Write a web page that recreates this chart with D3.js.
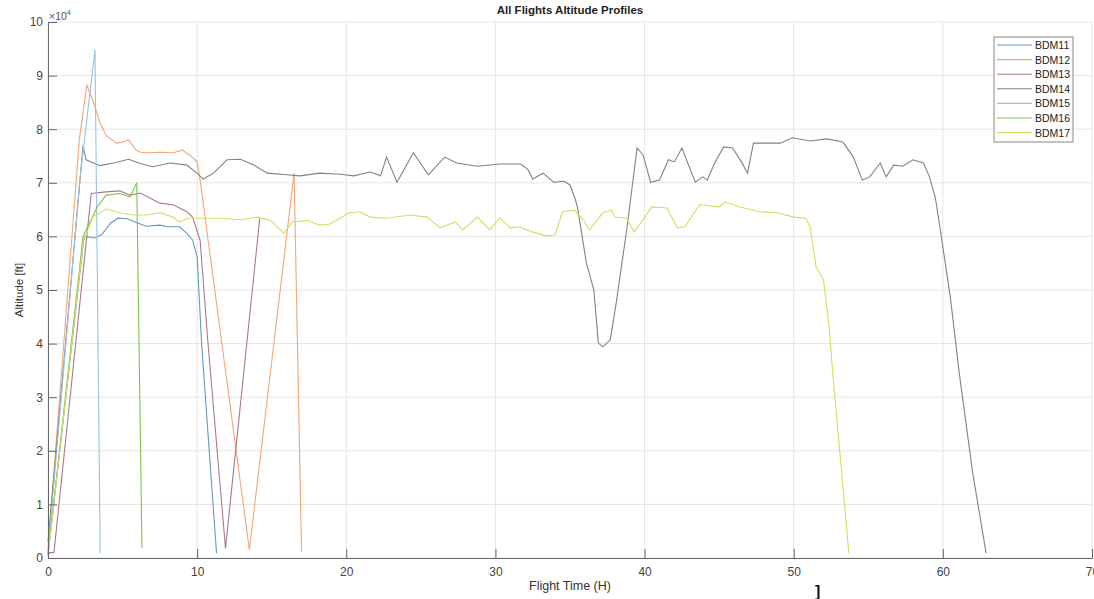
<!DOCTYPE html>
<html>
<head>
<meta charset="utf-8">
<script src="https://cdn.jsdelivr.net/npm/d3@7"></script>
<style>
  body { margin: 0; background: #fff; }
  svg { font-family: "Liberation Sans", Arial, sans-serif; }
</style>
</head>
<body>
<div id="chart"></div>
<script>
// flight profiles, [hours, feet]
const bdm11 = [[0,800],[2.4,59500],[2.5,60000],[3.1,59700],[3.6,60300],[4.2,62500],[4.7,63400],[5.3,63300],[6.0,62500],[6.6,61900],[7.5,62100],[8.0,61800],[8.8,61800],[9.3,60600],[9.7,59300],[10.0,56200],[10.3,40000],[11.3,900]];
const bdm12 = [[0,1500],[2.1,78000],[2.6,88200],[3.0,85400],[3.5,81100],[3.9,78800],[4.6,77400],[5.0,77600],[5.4,78000],[5.9,76100],[6.2,75700],[6.8,75600],[7.5,75700],[8.4,75600],[9.0,76100],[9.5,75200],[10.0,73900],[10.2,70500],[13.5,1500],[16.5,71800],[17.0,1200]];
const bdm13 = [[0,500],[0.1,1000],[0.4,1000],[2.9,68000],[3.9,68300],[4.8,68500],[5.5,67700],[6.2,68100],[6.8,67200],[7.5,66200],[8.4,65900],[9.3,64600],[9.7,63600],[10.2,59300],[10.7,41000],[11.9,1800],[14.2,63400]];
const bdm14 = [[0,3000],[2.35,76900],[2.55,74300],[3.5,73200],[4.4,73700],[5.4,74400],[6.2,73600],[7.0,73000],[8.2,73700],[9.3,73300],[10.0,71800],[10.4,70700],[11.1,71800],[12.0,74300],[12.9,74400],[13.8,73300],[14.7,71800],[16.0,71500],[16.9,71300],[18.2,71800],[19.6,71600],[20.5,71300],[21.6,72000],[22.3,71300],[22.7,74800],[23.4,70100],[24.5,75600],[25.5,71500],[26.6,74800],[27.4,73700],[28.8,73100],[30.3,73500],[31.7,73500],[32.2,72400],[32.5,70700],[33.2,71800],[33.9,70100],[34.6,70300],[35.0,69600],[35.3,67400],[35.5,65500],[36.1,55000],[36.6,50000],[36.9,40100],[37.2,39400],[37.7,40700],[38.1,47600],[38.8,61200],[39.5,76500],[39.9,75200],[40.4,70100],[41.0,70500],[41.6,74300],[42.0,73900],[42.5,76500],[43.4,70100],[43.9,71100],[44.2,70500],[44.7,73700],[45.3,76700],[45.9,76500],[46.5,73900],[46.9,71800],[47.3,77400],[48.2,77400],[49.1,77400],[49.9,78400],[51.1,77800],[52.2,78200],[53.3,77600],[54.0,74800],[54.6,70500],[55.1,71100],[55.8,73700],[56.2,71100],[56.7,73300],[57.3,73100],[58.0,74300],[58.7,73700],[59.1,71100],[59.5,67200],[59.9,59900],[60.5,48700],[61.1,34500],[62.0,15900],[62.9,900]];
const bdm15 = [[0,1000],[2.15,71000],[3.15,94800],[3.5,900]];
const bdm16 = [[0,500],[2.35,60000],[3.3,65500],[3.9,67700],[4.8,68000],[5.5,67400],[5.95,70000],[6.3,1900]];
const bdm17 = [[0,300],[2.35,58800],[3.0,63600],[3.9,65100],[4.8,64400],[5.7,64000],[6.6,64000],[7.5,64400],[8.4,63600],[8.8,62700],[9.4,63400],[10.2,63400],[11.7,63400],[12.9,63100],[14.0,63600],[14.9,63000],[15.6,61200],[15.8,60600],[16.4,62700],[17.4,63000],[18.2,62100],[18.9,62300],[20.2,64400],[20.9,64600],[21.6,63600],[22.7,63400],[24.3,64000],[25.4,63600],[26.3,61600],[27.3,62700],[27.8,61200],[28.8,63600],[29.6,61200],[30.3,63400],[31.0,61600],[31.6,61800],[32.5,60800],[33.4,60100],[34.0,60300],[34.5,64600],[35.3,64900],[35.9,63100],[36.3,61200],[37.2,64400],[37.8,64900],[38.0,63600],[38.8,63400],[39.3,60800],[40.5,65500],[41.5,65300],[42.2,61600],[42.7,61800],[43.7,65900],[45.0,65500],[45.4,66400],[46.4,65500],[47.7,64600],[48.9,64400],[50.0,63600],[50.8,63400],[51.1,61800],[51.5,54300],[52.0,51900],[52.4,42500],[52.6,35000],[53.7,900]];

const flightNames = ["BDM11", "BDM12", "BDM13", "BDM14", "BDM15", "BDM16", "BDM17"];
const flightColors = ["#6598c2", "#f2a778", "#a87a8a", "#828282", "#96c4e2", "#80c24c", "#d4dd60"];
const xTicks = [0, 10, 20, 30, 40, 50, 60, 70];
const yTicks = [0, 10000, 20000, 30000, 40000, 50000, 60000, 70000, 80000, 90000, 100000];

const flights = [bdm11, bdm12, bdm13, bdm14, bdm15, bdm16, bdm17];

const width = 1094, height = 599;
const margin = { top: 22, right: 2, bottom: 41, left: 48 };

const svg = d3.select("#chart").append("svg")
    .attr("width", width)
    .attr("height", height);

const x = d3.scaleLinear().domain([0, 70]).range([margin.left, width - margin.right]);
const y = d3.scaleLinear().domain([0, 100000]).range([height - margin.bottom, margin.top]);

// grid
svg.append("g")
    .selectAll("line")
    .data(xTicks)
    .join("line")
    .attr("x1", d => x(d)).attr("x2", d => x(d))
    .attr("y1", y(0)).attr("y2", y(100000))
    .attr("stroke", "#e6e6e6");

svg.append("g")
    .selectAll("line")
    .data(yTicks)
    .join("line")
    .attr("x1", x(0)).attr("x2", x(70))
    .attr("y1", d => y(d)).attr("y2", d => y(d))
    .attr("stroke", "#e6e6e6");

// lines
const line = d3.line().x(d => x(d[0])).y(d => y(d[1]));

svg.append("g")
    .selectAll("path")
    .data(flights)
    .join("path")
    .attr("d", line)
    .attr("fill", "none")
    .attr("stroke", (d, i) => flightColors[i])
    .attr("stroke-width", 1.1);

// axes, ticks pointing inward like matlab
const xAxis = svg.append("g")
    .attr("transform", `translate(0,${y(0)})`)
    .call(d3.axisBottom(x).tickValues(xTicks).tickSize(-9).tickPadding(9).tickFormat(d3.format("d")));
const yAxis = svg.append("g")
    .attr("transform", `translate(${x(0)},0)`)
    .call(d3.axisLeft(y).tickValues(yTicks).tickSize(-9).tickPadding(5).tickFormat(d => d / 10000));

[xAxis, yAxis].forEach(a => {
    a.select(".domain").attr("stroke", "#666");
    a.selectAll(".tick line").attr("stroke", "#666");
    a.selectAll(".tick text").attr("fill", "#444").style("font-size", "12px");
});

// exponent
const expo = svg.append("text")
    .attr("x", 49).attr("y", 20)
    .attr("fill", "#555")
    .style("font-size", "10.5px");
expo.append("tspan").text("×10");
expo.append("tspan").attr("dy", -5).style("font-size", "7.5px").text("4");

// titles
svg.append("text")
    .attr("x", (x(0) + x(70)) / 2).attr("y", 14)
    .attr("text-anchor", "middle")
    .style("font-size", "11.5px").style("font-weight", "bold")
    .attr("fill", "#222")
    .text("All Flights Altitude Profiles");

svg.append("text")
    .attr("x", (x(0) + x(70)) / 2).attr("y", 590)
    .attr("text-anchor", "middle")
    .style("font-size", "12.5px")
    .attr("fill", "#333")
    .text("Flight Time (H)");

svg.append("text")
    .attr("transform", `translate(23,${(y(0) + y(100000)) / 2}) rotate(-90)`)
    .attr("text-anchor", "middle")
    .style("font-size", "11.5px")
    .attr("fill", "#333")
    .text("Altitude [ft]");

// stray mark in the scan
svg.append("text")
    .attr("x", 815).attr("y", 597)
    .style("font-size", "16px").style("font-weight", "bold")
    .attr("fill", "#111")
    .text("]");

// legend
const legend = svg.append("g").attr("transform", "translate(994,37)");
legend.append("rect")
    .attr("width", 79).attr("height", 105)
    .attr("fill", "#fff").attr("stroke", "#888");

const item = legend.selectAll("g")
    .data(flightNames)
    .join("g")
    .attr("transform", (d, i) => `translate(0,${8 + i * 14.6})`);
item.append("line")
    .attr("x1", 3).attr("x2", 38)
    .attr("stroke", (d, i) => flightColors[i]).attr("stroke-width", 1.1);
item.append("text")
    .attr("x", 41).attr("y", 4)
    .style("font-size", "10.5px")
    .attr("fill", "#222")
    .text(d => d);
</script>
</body>
</html>
